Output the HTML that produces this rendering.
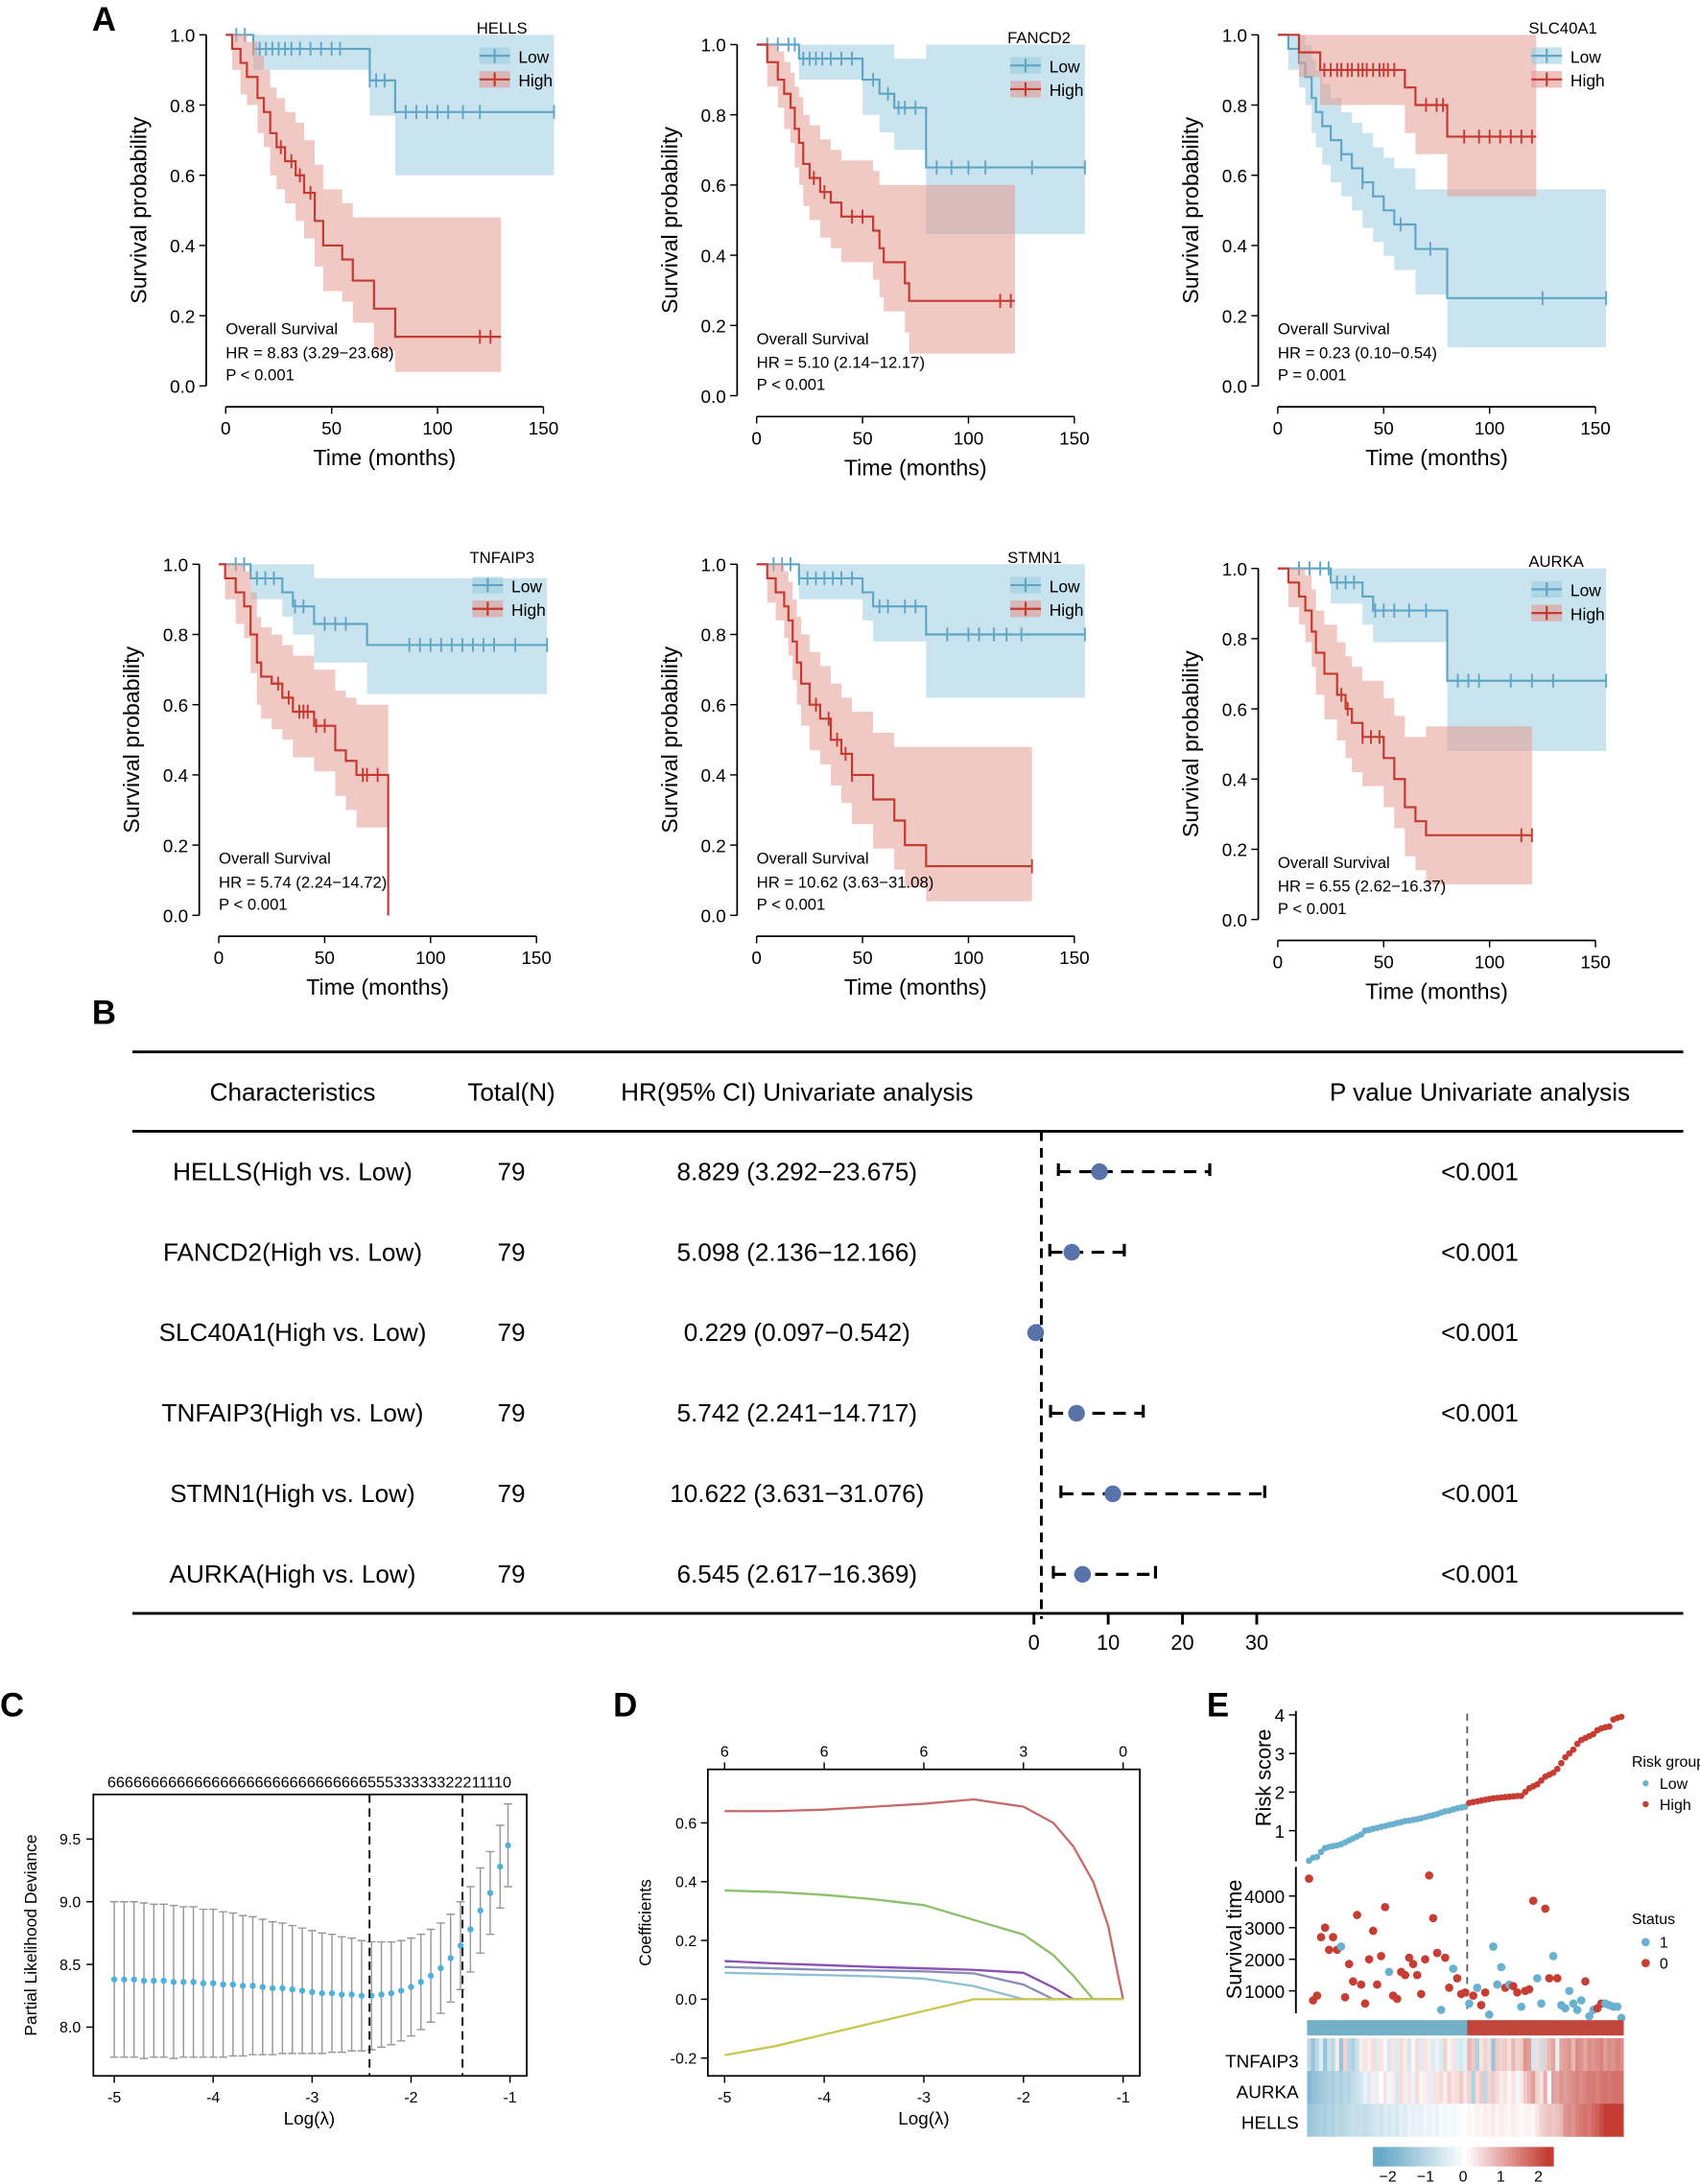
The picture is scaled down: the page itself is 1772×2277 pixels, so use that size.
<!DOCTYPE html>
<html><head><meta charset="utf-8"><style>
html,body{margin:0;padding:0;background:#fff}
svg{display:block;font-family:"Liberation Sans",Arial,sans-serif}
</style></head><body>
<svg id="fig" xmlns="http://www.w3.org/2000/svg" width="1772" height="2277" viewBox="0 0 1220 1567.6" preserveAspectRatio="none">
<rect width="1220" height="1568" fill="#fff"/>
<g font-weight="bold" font-size="24">
<text x="66" y="22">A</text>
<text x="66" y="735">B</text>
<text x="0" y="1232">C</text>
<text x="440" y="1232">D</text>
<text x="866" y="1232">E</text>
</g>
<g id="km"></g><g id="forest"></g><g id="lasso"></g><g id="coef"></g><g id="risk"></g>
</svg>
<script>
const NS='http://www.w3.org/2000/svg';
function mk(parent,tag,attrs,txt){const e=document.createElementNS(NS,tag);for(const k in attrs)e.setAttribute(k,attrs[k]);if(txt!==undefined)e.textContent=txt;parent.appendChild(e);return e;}

// ---------- KM data: [time, surv, lower, upper]
const hellsLow=[[0,1,1,1],[13,0.96,0.9,1],[68,0.87,0.77,1],[80,0.78,0.6,1]];
const hellsHigh=[[0,1,1,1],[3,0.96,0.9,1],[7,0.92,0.83,1],[10,0.88,0.8,0.98],[15,0.82,0.72,0.94],[18,0.78,0.68,0.9],[21,0.72,0.6,0.85],[24,0.68,0.56,0.82],[28,0.64,0.52,0.78],[33,0.6,0.47,0.75],[37,0.55,0.42,0.7],[42,0.47,0.34,0.63],[46,0.4,0.27,0.56],[55,0.36,0.24,0.52],[60,0.3,0.18,0.48],[70,0.22,0.1,0.48],[80,0.14,0.04,0.48]];
const hellsLowC=[5,9,13,16,19,22,25,28,31,35,40,45,50,54,68,71,75,85,90,95,100,105,112,120,155];
const hellsHighC=[26,31,35,40,120,125];
const fancLow=[[0,1,1,1],[20,0.96,0.9,1],[50,0.9,0.8,1],[58,0.86,0.75,1],[65,0.82,0.7,0.96],[80,0.65,0.46,1]];
const fancHigh=[[0,1,1,1],[5,0.95,0.88,1],[10,0.9,0.82,0.98],[13,0.86,0.76,0.95],[16,0.82,0.72,0.92],[18,0.76,0.65,0.88],[20,0.72,0.6,0.85],[22,0.66,0.54,0.8],[25,0.62,0.5,0.77],[30,0.58,0.45,0.73],[35,0.55,0.42,0.7],[40,0.51,0.38,0.67],[55,0.47,0.33,0.64],[58,0.42,0.28,0.6],[60,0.38,0.24,0.6],[70,0.32,0.18,0.6],[72,0.27,0.12,0.6]];
const fancLowC=[5,10,15,18,22,25,28,31,35,40,45,55,62,67,70,75,85,92,100,108,130,155];
const fancHighC=[27,32,45,50,115,120];
const slcLow=[[0,1,1,1],[5,0.96,0.9,1],[10,0.92,0.85,1],[13,0.88,0.8,0.97],[16,0.82,0.72,0.93],[18,0.78,0.68,0.9],[21,0.74,0.63,0.86],[25,0.7,0.58,0.82],[30,0.66,0.54,0.78],[35,0.62,0.5,0.75],[40,0.58,0.45,0.72],[45,0.54,0.41,0.68],[50,0.5,0.37,0.65],[55,0.46,0.33,0.62],[65,0.39,0.26,0.56],[80,0.25,0.11,0.56]];
const slcHigh=[[0,1,1,1],[10,0.95,0.88,1],[20,0.9,0.8,1],[60,0.85,0.72,1],[65,0.8,0.66,1],[80,0.71,0.54,1]];
const slcLowC=[30,40,58,72,125,155];
const slcHighC=[22,25,28,30,33,35,38,40,42,45,48,50,52,55,70,75,78,88,95,100,105,110,115,120];
const tnfLow=[[0,1,1,1],[15,0.96,0.9,1],[30,0.92,0.85,1],[35,0.88,0.8,1],[45,0.83,0.72,0.96],[70,0.77,0.63,0.96]];
const tnfHigh=[[0,1,1,1],[3,0.96,0.9,1],[8,0.92,0.83,1],[12,0.88,0.79,0.98],[15,0.8,0.69,0.92],[18,0.72,0.6,0.85],[20,0.68,0.56,0.82],[25,0.66,0.53,0.8],[30,0.62,0.5,0.77],[35,0.58,0.45,0.74],[45,0.54,0.41,0.7],[55,0.47,0.34,0.64],[60,0.44,0.3,0.62],[65,0.4,0.25,0.6],[80,0,0,0.8]];
const tnfLowC=[8,12,18,22,26,36,40,50,55,60,90,95,100,105,110,115,120,125,130,140,155];
const tnfHighC=[28,33,38,40,42,46,50,68,70,75];
const stmLow=[[0,1,1,1],[20,0.96,0.9,1],[50,0.92,0.84,1],[55,0.88,0.78,1],[80,0.8,0.62,1]];
const stmHigh=[[0,1,1,1],[5,0.96,0.89,1],[9,0.92,0.84,1],[13,0.88,0.79,0.98],[15,0.84,0.74,0.95],[17,0.78,0.67,0.9],[19,0.72,0.6,0.85],[21,0.66,0.54,0.8],[25,0.6,0.47,0.75],[30,0.56,0.43,0.71],[35,0.5,0.37,0.66],[40,0.46,0.32,0.62],[45,0.4,0.26,0.58],[55,0.33,0.19,0.52],[65,0.27,0.13,0.48],[70,0.2,0.08,0.48],[80,0.14,0.04,0.48]];
const stmLowC=[8,12,16,20,24,28,32,36,40,45,58,62,70,75,90,100,105,112,118,125,155];
const stmHighC=[28,34,38,42,45,130];
const aurLow=[[0,1,1,1],[25,0.96,0.9,1],[40,0.92,0.84,1],[45,0.88,0.79,1],[80,0.68,0.48,1]];
const aurHigh=[[0,1,1,1],[5,0.96,0.89,1],[10,0.92,0.84,1],[13,0.88,0.79,0.98],[16,0.82,0.72,0.94],[18,0.76,0.64,0.88],[22,0.7,0.57,0.84],[28,0.64,0.51,0.79],[32,0.6,0.46,0.75],[35,0.56,0.42,0.72],[40,0.52,0.38,0.68],[50,0.46,0.32,0.63],[55,0.4,0.26,0.58],[60,0.32,0.18,0.52],[65,0.28,0.14,0.52],[70,0.24,0.1,0.55]];
const aurLowC=[10,15,20,24,28,32,36,46,50,55,62,70,85,90,95,110,120,130,155];
const aurHighC=[30,33,40,44,48,115,120];
const kmGenes=['HELLS','FANCD2','SLC40A1','TNFAIP3','STMN1','AURKA'];
const kmHR=['HR = 8.83 (3.29−23.68)','HR = 5.10 (2.14−12.17)','HR = 0.23 (0.10−0.54)','HR = 5.74 (2.24−14.72)','HR = 10.62 (3.63−31.08)','HR = 6.55 (2.62−16.37)'];
const kmP=['P < 0.001','P < 0.001','P = 0.001','P < 0.001','P < 0.001','P < 0.001'];
const kmLowEnd=[155,155,155,155,155,155];
const kmHighEnd=[130,122,122,80,130,120];
const kmCurves=[[hellsLow,hellsHigh,hellsLowC,hellsHighC],[fancLow,fancHigh,fancLowC,fancHighC],[slcLow,slcHigh,slcLowC,slcHighC],[tnfLow,tnfHigh,tnfLowC,tnfHighC],[stmLow,stmHigh,stmLowC,stmHighC],[aurLow,aurHigh,aurLowC,aurHighC]];
const kmTicksX=[0,50,100,150];
const kmTicksY=[0,0.2,0.4,0.6,0.8,1.0];
const kmPos=[[162,25],[543,32],[917,25],[157,405],[543,405],[917,408]];

const BL='#5fa6c6',RD='#c5392f';
const km=document.getElementById('km');
kmPos.forEach((p,i)=>{
  const [x0,y1]=p, W=228, H=252, y0=y1+H;
  const X=t=>x0+t/150*W, Y=s=>y0-s*H;
  const g=mk(km,'g',{});
  
  
  const [lowD,highD,lowC,highC]=kmCurves[i];
  const draw=(d,end,col,fill,cens,nm)=>{
    let up='',lo=[];
    d.forEach((r,j)=>{const tn=j<d.length-1?d[j+1][0]:end;up+=(j?'L':'M')+X(r[0])+','+Y(r[3])+'L'+X(tn)+','+Y(r[3]);lo.unshift(X(tn)+','+Y(r[2]),X(r[0])+','+Y(r[2]));});
    const band=mk(g,'path',{d:up+'L'+lo.join('L')+'Z',fill:fill,'fill-opacity':0.55,stroke:'none'});
    
    
    let ln='M'+X(0)+','+Y(1);
    d.forEach((r,j)=>{const tn=j<d.length-1?d[j+1][0]:end;ln+='L'+X(r[0])+','+Y(r[1])+'L'+X(tn)+','+Y(r[1]);});
    const path=mk(g,'path',{d:ln,fill:'none',stroke:col,'stroke-width':1.5});
    
    
    cens.forEach(t=>{let s=1;d.forEach(r=>{if(r[0]<=t)s=r[1];});
      const c=mk(g,'path',{d:'M'+X(t)+','+(Y(s)-5)+'V'+(Y(s)+5),stroke:col,'stroke-width':1.3});
      
      });
  };
  draw(lowD,kmLowEnd[i],BL,'#9ccde0',lowC,'low');
  draw(highD,kmHighEnd[i],RD,'#e39a94',highC,'high');
  const ax=x0-14, ay=y0+15;
  mk(g,'path',{d:'M'+ax+','+Y(1)+'V'+Y(0)+'M'+X(0)+','+ay+'H'+X(150),stroke:'#000','stroke-width':1.2,fill:'none'});
  kmTicksY.forEach(v=>{mk(g,'path',{d:'M'+(ax-5)+','+Y(v)+'H'+ax,stroke:'#000'});mk(g,'text',{x:ax-8,y:Y(v)+5,'font-size':13,'text-anchor':'end'},v.toFixed(1));});
  kmTicksX.forEach(v=>{mk(g,'path',{d:'M'+X(v)+','+ay+'V'+(ay+5),stroke:'#000'});mk(g,'text',{x:X(v),y:ay+20,'font-size':13,'text-anchor':'middle'},v);});
  const xt=mk(g,'text',{x:X(75),y:ay+42,'font-size':16,'text-anchor':'middle'},'Time (months)');
  
  const yt=mk(g,'text',{x:0,y:0,'font-size':16,'text-anchor':'middle',transform:'translate('+(ax-43)+','+Y(0.5)+') rotate(-90)'},'Survival probability');
  
  mk(g,'text',{x:x0,y:y0-37,'font-size':11.5},'Overall Survival');
  mk(g,'text',{x:x0,y:y0-20,'font-size':11.5},kmHR[i]);
  mk(g,'text',{x:x0,y:y0-4,'font-size':11.5},kmP[i]);
  const lg=mk(g,'g',{});
  
  const lx=x0+180;
  mk(lg,'text',{x:lx,y:y1-1,'font-size':11.5},kmGenes[i]);
  [['Low',BL,'#9ccde0',15],['High',RD,'#e39a94',32]].forEach(l=>{
    mk(lg,'rect',{x:lx+2,y:y1+l[3]-6,width:22,height:12,fill:l[2],'fill-opacity':0.6});
    mk(lg,'path',{d:'M'+(lx+2)+','+(y1+l[3])+'h22M'+(lx+13)+','+(y1+l[3]-5)+'v10',stroke:l[1],'stroke-width':1.5});
    mk(lg,'text',{x:lx+30,y:y1+l[3]+5,'font-size':12},l[0]);
  });
});

// ---------- Forest plot
const fLabels=['HELLS(High vs. Low)','FANCD2(High vs. Low)','SLC40A1(High vs. Low)','TNFAIP3(High vs. Low)','STMN1(High vs. Low)','AURKA(High vs. Low)'];
const fN=[79,79,79,79,79,79];
const fHR=[8.829,5.098,0.229,5.742,10.622,6.545];
const fLo=[3.292,2.136,0.097,2.241,3.631,2.617];
const fHi=[23.675,12.166,0.542,14.717,31.076,16.369];
const fP=['<0.001','<0.001','<0.001','<0.001','<0.001','<0.001'];
const fTicks=[0,10,20,30];
const fo=document.getElementById('forest');
const FX=v=>742+v*5.33;
mk(fo,'path',{d:'M95,755H1208M95,812H1208M95,1158H1208',stroke:'#000','stroke-width':2});
[['Characteristics',210],['Total(N)',367],['HR(95% CI) Univariate analysis',572],['P value Univariate analysis',1062]].forEach(h=>{
  const t=mk(fo,'text',{x:h[1],y:790,'font-size':18,'text-anchor':'middle'},h[0]);
  });
mk(fo,'path',{d:'M'+FX(1)+',812V1162',stroke:'#000','stroke-width':2,'stroke-dasharray':'7,5'});
fLabels.forEach((l,i)=>{
  const y=841+i*57.8;
  const r=mk(fo,'g',{});
  
  mk(r,'text',{x:210,y:y+6,'font-size':18,'text-anchor':'middle'},l);
  mk(r,'text',{x:367,y:y+6,'font-size':18,'text-anchor':'middle'},fN[i]);
  mk(r,'text',{x:572,y:y+6,'font-size':18,'text-anchor':'middle'},fHR[i].toFixed(3)+' ('+fLo[i].toFixed(3)+'−'+fHi[i].toFixed(3)+')');
  mk(r,'text',{x:1062,y:y+6,'font-size':18,'text-anchor':'middle'},fP[i]);
  mk(r,'path',{d:'M'+FX(fLo[i])+','+y+'H'+FX(fHi[i])+'M'+FX(fLo[i])+','+(y-6)+'v12M'+FX(fHi[i])+','+(y-6)+'v12',stroke:'#000','stroke-width':2.2,'stroke-dasharray':'9,6'});
  const d=mk(r,'circle',{cx:FX(fHR[i]),cy:y,r:6,fill:'#5872aa'});
  
});
fTicks.forEach(v=>{mk(fo,'path',{d:'M'+FX(v)+',1158V1166',stroke:'#000','stroke-width':2});mk(fo,'text',{x:FX(v),y:1184,'font-size':15,'text-anchor':'middle'},v);});

// ---------- LASSO CV (C)
const cLambda=[-5,-4.9,-4.8,-4.7,-4.6,-4.5,-4.4,-4.3,-4.2,-4.1,-4,-3.9,-3.8,-3.7,-3.6,-3.5,-3.4,-3.3,-3.2,-3.1,-3,-2.9,-2.8,-2.7,-2.6,-2.5,-2.4,-2.3,-2.2,-2.1,-2,-1.9,-1.8,-1.7,-1.6,-1.5,-1.4,-1.3,-1.2,-1.1,-1.02];
const cMean=[8.38,8.38,8.38,8.37,8.37,8.37,8.36,8.36,8.36,8.35,8.35,8.34,8.34,8.33,8.33,8.32,8.31,8.31,8.3,8.29,8.28,8.27,8.27,8.26,8.26,8.25,8.25,8.26,8.27,8.29,8.32,8.36,8.41,8.47,8.55,8.65,8.78,8.93,9.07,9.28,9.45];
const cSE=[0.62,0.62,0.62,0.62,0.61,0.61,0.61,0.6,0.6,0.59,0.59,0.58,0.57,0.56,0.55,0.54,0.53,0.52,0.51,0.5,0.49,0.48,0.47,0.46,0.45,0.44,0.43,0.42,0.41,0.4,0.39,0.38,0.37,0.36,0.35,0.35,0.34,0.34,0.33,0.33,0.33];
const cTicksX=[-5,-4,-3,-2,-1];
const cTicksY=[8.0,8.5,9.0,9.5];
const cLmin=-2.42, cL1se=-1.48;
const cTop='66666666666666666666666666666655533333322211110';
const la=document.getElementById('lasso');
const CX=v=>366+(v+1)*71, CY=v=>1455-(v-8)*90;
mk(la,'rect',{x:67,y:1288,width:311,height:202,fill:'none',stroke:'#000','stroke-width':1.2});
cLambda.forEach((l,i)=>{
  mk(la,'path',{d:'M'+CX(l)+','+CY(cMean[i]+cSE[i])+'V'+CY(cMean[i]-cSE[i])+'M'+(CX(l)-3)+','+CY(cMean[i]+cSE[i])+'h6M'+(CX(l)-3)+','+CY(cMean[i]-cSE[i])+'h6',stroke:'#999','stroke-width':1});
});
cLambda.forEach((l,i)=>{const c=mk(la,'circle',{cx:CX(l),cy:CY(cMean[i]),r:2.2,fill:'#4fb0de'});
  });
mk(la,'path',{d:'M'+CX(cLmin)+',1288V1490M'+CX(cL1se)+',1288V1490',stroke:'#000','stroke-width':1.3,'stroke-dasharray':'6,4'});
cTicksX.forEach(v=>{mk(la,'path',{d:'M'+CX(v)+',1490v5',stroke:'#000'});mk(la,'text',{x:CX(v),y:1509,'font-size':11,'text-anchor':'middle'},v);});
cTicksY.forEach(v=>{mk(la,'path',{d:'M62,'+CY(v)+'h5',stroke:'#000'});mk(la,'text',{x:58,y:CY(v)+4,'font-size':11,'text-anchor':'end'},v.toFixed(1));});
mk(la,'text',{x:222,y:1283,'font-size':11,'text-anchor':'middle',textLength:290,lengthAdjust:'spacingAndGlyphs'},cTop);
mk(la,'text',{x:222,y:1525,'font-size':13,'text-anchor':'middle'},'Log(λ)');
mk(la,'text',{x:0,y:0,'font-size':12,'text-anchor':'middle',transform:'translate(26,1389) rotate(-90)'},'Partial Likelihood Deviance');

// ---------- Coefficients (D)
const dLambda=[-5,-4.5,-4,-3.5,-3,-2.5,-2,-1.7,-1.5,-1.3,-1.15,-1.05,-1];
const dRed=[0.64,0.64,0.645,0.655,0.665,0.68,0.655,0.6,0.52,0.4,0.25,0.08,0];
const dGreen=[0.37,0.365,0.355,0.34,0.32,0.27,0.22,0.15,0.08,0,0,0,0];
const dPurple=[0.13,0.122,0.116,0.11,0.105,0.1,0.09,0.04,0,0,0,0,0];
const dSteel=[0.11,0.105,0.1,0.098,0.095,0.088,0.05,0,0,0,0,0,0];
const dCyan=[0.09,0.086,0.082,0.078,0.07,0.045,0,0,0,0,0,0,0];
const dYellow=[-0.19,-0.16,-0.12,-0.08,-0.04,0,0,0,0,0,0,0,0];
const dSeries=[[dRed,'#c96a6a','coef-red'],[dGreen,'#8cc06a','coef-green'],[dPurple,'#8a4fb0','coef-purple'],[dSteel,'#8c8cb8','coef-steel'],[dCyan,'#90c0d0','coef-cyan'],[dYellow,'#c8c850','coef-yellow']];
const dTicksX=[-5,-4,-3,-2,-1];
const dTicksY=[-0.2,0,0.2,0.4,0.6];
const dTopX=[-5,-4,-3,-2,-1];
const dTopLab=['6','6','6','3','0'];
const co=document.getElementById('coef');
const DX=v=>806+(v+1)*71.5, DY=v=>1435-v*211;
mk(co,'rect',{x:508,y:1270,width:310,height:220,fill:'none',stroke:'#000','stroke-width':1.2});
dSeries.forEach(s=>{const p=mk(co,'polyline',{points:dLambda.map((l,i)=>DX(l)+','+DY(s[0][i])).join(' '),fill:'none',stroke:s[1],'stroke-width':1.6});
  });
dTicksX.forEach(v=>{mk(co,'path',{d:'M'+DX(v)+',1490v5',stroke:'#000'});mk(co,'text',{x:DX(v),y:1509,'font-size':11,'text-anchor':'middle'},v);});
dTopX.forEach((v,i)=>{mk(co,'path',{d:'M'+DX(v)+',1270v-5',stroke:'#000'});mk(co,'text',{x:DX(v),y:1261,'font-size':11,'text-anchor':'middle'},dTopLab[i]);});
dTicksY.forEach(v=>{mk(co,'path',{d:'M503,'+DY(v)+'h5',stroke:'#000'});mk(co,'text',{x:500,y:DY(v)+4,'font-size':11,'text-anchor':'end'},v.toFixed(1));});
mk(co,'text',{x:663,y:1525,'font-size':13,'text-anchor':'middle'},'Log(λ)');
mk(co,'text',{x:0,y:0,'font-size':12,'text-anchor':'middle',transform:'translate(467,1380) rotate(-90)'},'Coefficients');

// ---------- Risk (E)
const riskScore=[0.22,0.3,0.32,0.45,0.55,0.58,0.6,0.62,0.65,0.7,0.75,0.8,0.85,0.9,1.0,1.02,1.05,1.07,1.1,1.12,1.15,1.17,1.2,1.22,1.25,1.26,1.28,1.3,1.32,1.35,1.38,1.4,1.43,1.47,1.5,1.52,1.55,1.58,1.6,1.62,
1.72,1.74,1.76,1.78,1.8,1.82,1.84,1.85,1.86,1.87,1.88,1.89,1.9,1.9,2.0,2.1,2.15,2.2,2.3,2.4,2.45,2.5,2.6,2.75,2.9,3.0,3.1,3.25,3.35,3.4,3.45,3.5,3.6,3.65,3.68,3.7,3.88,3.92,3.95];
const survTime=[4550,700,850,2700,3000,2300,2700,2300,2400,800,1850,1300,3400,1200,600,2000,2900,1200,2100,3650,1600,850,750,1600,1500,2050,1850,1500,900,2000,4650,3300,2200,400,2050,1100,1700,1400,900,950,
600,850,1100,550,950,250,2400,1200,1750,1100,1200,1150,950,500,1000,1050,3850,1400,600,3600,1400,2100,1400,550,450,1000,600,400,700,1300,200,400,450,600,600,550,500,500,150];
const survStatus=[0,0,0,0,0,0,0,0,1,0,0,0,0,0,0,0,0,0,0,0,1,0,0,0,0,0,0,0,0,0,0,0,0,1,0,0,1,0,0,0,
1,0,1,0,0,1,1,1,1,0,1,0,0,1,0,0,0,1,1,0,0,1,0,1,1,1,1,1,1,0,1,1,0,0,1,1,1,1,1];
const hmTNFAIP3=[-1,-1.5,-1,-0.5,-1.5,-0.8,-1,0.2,-1.5,0.5,-1,-1.2,-0.8,0.2,0.3,0.2,0.4,-0.5,0.3,0.1,-0.6,0.3,-0.5,0.4,0.2,-0.6,0.1,0.4,-0.5,0.3,0.2,-0.5,-0.3,-0.5,0.5,-0.2,0.3,-0.5,-0.6,-0.4,
0.8,0.6,-1.2,0.3,0.5,0.4,-1.5,0.6,0.5,0.6,0.4,0.8,0.5,0.6,1.2,1.1,-0.6,0.4,-0.8,0.6,0.8,1,-0.4,1,1.1,1.2,0.8,1.3,1.2,1,1.3,1.2,1.3,1.4,1.1,1.3,1.2,1.4,1.3];
const hmAURKA=[-1.8,-1.6,-1.5,-1.4,-1.3,-1.2,-1.3,-1.1,-1.2,-1,-1.1,-0.9,-0.8,-0.6,-0.3,-0.5,0.2,-0.4,0,0.3,-0.2,0.2,-0.6,0.4,0.2,0.3,-0.3,0.4,0.1,0.2,-0.4,0.3,0.3,0.4,0.2,0.5,0.3,0.4,0.6,0.3,
0.5,-1.2,0.4,0.6,-1,0.5,0.6,0.4,0.2,0.3,0.1,0.3,-0.2,0.2,0.6,0.8,1.1,0.5,0.3,0.9,-0.1,1.1,1,1.2,1.1,1.2,1.3,1.4,1.3,1.4,1.5,1.5,1.4,1.5,1.6,1.5,1.6,1.6,1.6];
const hmHELLS=[-1.5,-1.4,-1.3,-1.2,-1.3,-1.1,-1.2,-1.0,-1.1,-1,-0.9,-0.8,-0.9,-0.8,-0.9,-0.8,-0.7,-0.6,-0.7,-0.5,-0.6,-0.5,-0.6,-0.4,-0.5,-0.3,-0.4,-0.3,-0.4,-0.2,-0.3,-0.2,-0.3,-0.1,-0.2,-0.1,-0.2,-0.1,-0.05,0,
0.1,0.05,0.15,0.1,0.2,0.15,0.25,0.1,0.2,0.15,0.1,0.2,0.15,0.05,0.1,0.15,0.1,0.3,0.5,0.6,0.7,0.6,0.7,0.8,1.2,1.3,1.2,1.4,1.5,1.6,1.5,1.7,1.8,2,2.2,2.2,2.3,2.3,2.4];
const hmRows=[['TNFAIP3',hmTNFAIP3],['AURKA',hmAURKA],['HELLS',hmHELLS]];
const rTicks=[1,2,3,4], tTicks=[1000,2000,3000,4000], cbTicks=[-2,-1,0,1,2];
const lowCount=40;
const ri=document.getElementById('risk');
const n=riskScore.length, EX=i=>938+(i+0.5)*(227/n);
const RY=v=>1314-(v-1)*27.7, TY=v=>1429-(v-1000)/1000*22.7;
function hmc(v){v=Math.max(-2.4,Math.min(2.4,v));const w=[255,255,255],b=[106,170,200],r=[196,60,50];const t=Math.min(1,Math.abs(v)/2.2),c=v<0?b:r;return 'rgb('+w.map((x,k)=>Math.round(x+(c[k]-x)*t)).join(',')+')';}
mk(ri,'path',{d:'M930,1228V1336M930,1340V1445',stroke:'#000','stroke-width':1.3});
rTicks.forEach(v=>{mk(ri,'path',{d:'M925,'+RY(v)+'h5',stroke:'#000'});mk(ri,'text',{x:922,y:RY(v)+5,'font-size':13,'text-anchor':'end'},v);});
tTicks.forEach(v=>{mk(ri,'path',{d:'M925,'+TY(v)+'h5',stroke:'#000'});mk(ri,'text',{x:922,y:TY(v)+5,'font-size':13,'text-anchor':'end'},v);});
mk(ri,'text',{x:0,y:0,'font-size':15,'text-anchor':'middle',transform:'translate(912,1276) rotate(-90)'},'Risk score');
mk(ri,'text',{x:0,y:0,'font-size':15,'text-anchor':'middle',transform:'translate(891,1392) rotate(-90)'},'Survival time');
mk(ri,'path',{d:'M'+((EX(lowCount-1)+EX(lowCount))/2)+',1230V1445',stroke:'#555','stroke-width':1.2,'stroke-dasharray':'5,4'});
riskScore.forEach((v,i)=>{const c=mk(ri,'circle',{cx:EX(i),cy:RY(v),r:2.3,fill:i<lowCount?'#6ab0cf':'#c53d33'});
  });
survTime.forEach((v,i)=>{const c=mk(ri,'circle',{cx:EX(i),cy:TY(v),r:3,fill:survStatus[i]?'#6ab0cf':'#c53d33'});
  });
const cw=227/n;
riskScore.forEach((v,i)=>{mk(ri,'rect',{x:938+i*cw,y:1450,width:cw+0.3,height:11,fill:i<lowCount?'#72b0c8':'#c0453a'});});
hmRows.forEach((row,k)=>{
  mk(ri,'text',{x:932,y:1484+k*22,'font-size':13,'text-anchor':'end'},row[0]);
  row[1].forEach((v,i)=>{const c=mk(ri,'rect',{x:938+i*cw,y:1463+k*23.5,width:cw+0.3,height:23.7,fill:hmc(v)});
    });
});
const cbX=v=>1050+v*27;
for(let j=0;j<48;j++){const v=-2.4+j*0.1;mk(ri,'rect',{x:cbX(v),y:1541,width:3,height:14,fill:hmc(v)});}
cbTicks.forEach(v=>{mk(ri,'text',{x:cbX(v),y:1566,'font-size':11,'text-anchor':'middle'},v<0?'−'+(-v):v);});
const lg=mk(ri,'g',{});

mk(lg,'text',{x:1171,y:1268,'font-size':11},'Risk group');
mk(lg,'circle',{cx:1181,cy:1280,r:2.2,fill:'#6ab0cf'});mk(lg,'text',{x:1191,y:1284,'font-size':11},'Low');
mk(lg,'circle',{cx:1181,cy:1295,r:2.2,fill:'#c53d33'});mk(lg,'text',{x:1191,y:1299,'font-size':11},'High');
mk(lg,'text',{x:1171,y:1381,'font-size':11},'Status');
mk(lg,'circle',{cx:1181,cy:1394,r:3,fill:'#6ab0cf'});mk(lg,'text',{x:1191,y:1398,'font-size':11},'1');
mk(lg,'circle',{cx:1181,cy:1409,r:3,fill:'#c53d33'});mk(lg,'text',{x:1191,y:1413,'font-size':11},'0');
</script>
</body></html>
